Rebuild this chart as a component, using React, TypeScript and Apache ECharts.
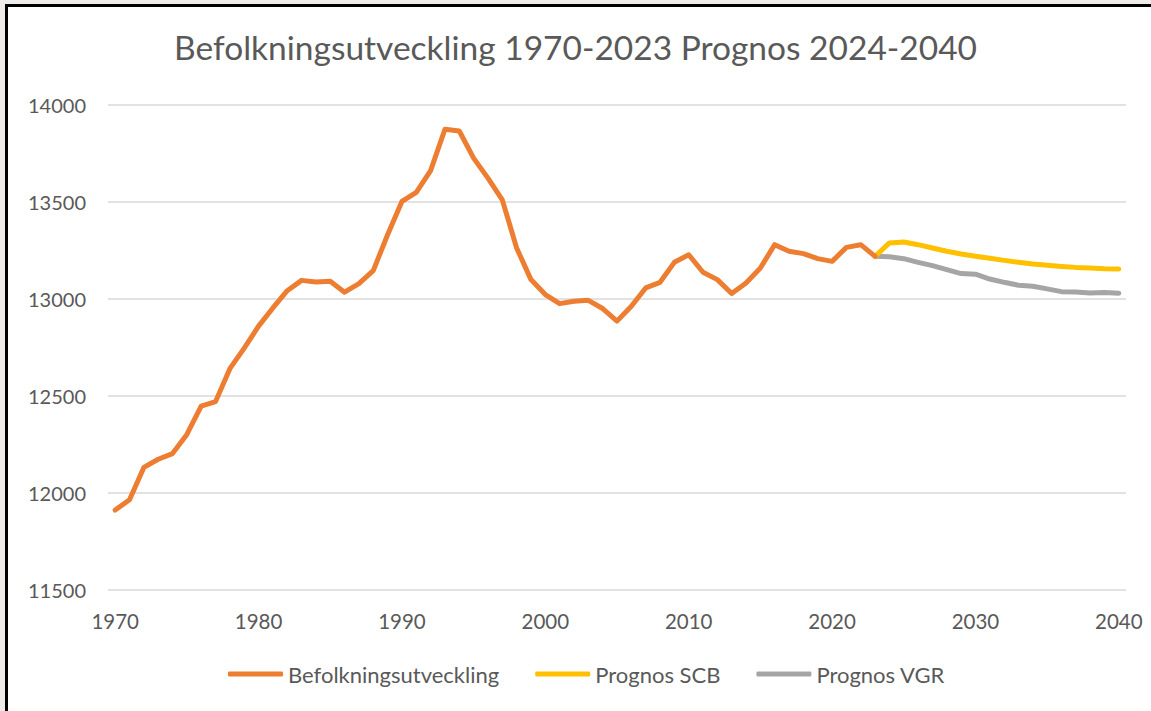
import React, { useEffect, useRef } from "react";
import * as echarts from "echarts";

const titleText = "Befolkningsutveckling 1970-2023 Prognos 2024-2040";
const startYear = 1970;
const endYear = 2040;
const forecastStart = 2023;

const historyValues = [
  11912, 11965, 12132, 12174, 12203, 12302, 12448, 12471, 12641, 12747,
  12860, 12954, 13043, 13096, 13088, 13091, 13035, 13079, 13146, 13331,
  13503, 13550, 13662, 13875, 13866, 13726, 13623, 13511, 13263, 13100,
  13023, 12976, 12988, 12993, 12951, 12886, 12963, 13057, 13086, 13189,
  13228, 13138, 13100, 13028, 13083, 13160, 13280, 13246, 13234, 13208,
  13194, 13266, 13280, 13220,
];

const scbValues = [
  13220, 13289, 13294, 13280, 13263, 13246, 13232, 13220, 13210, 13199,
  13189, 13180, 13174, 13168, 13163, 13160, 13156, 13155,
];

const vgrValues = [
  13220, 13218, 13208, 13189, 13172, 13151, 13131, 13128, 13103, 13086,
  13071, 13066, 13052, 13038, 13036, 13031, 13033, 13030,
];

const seriesNames = ["Befolkningsutveckling", "Prognos SCB", "Prognos VGR"];
const seriesColors = ["#ED7D31", "#FFC000", "#A5A5A5"];

const yTicks = { min: 11500, max: 14000, interval: 500 };

export default function App() {
  const ref = useRef<HTMLDivElement>(null);

  useEffect(() => {
    if (!ref.current) return;
    const chart = echarts.init(ref.current, null, { renderer: "svg" });

    const years: string[] = [];
    for (let y = startYear; y <= endYear; y++) years.push(String(y));
    const offset = forecastStart - startYear;

    const hist = years.map((_, i) => (i < historyValues.length ? historyValues[i] : null));
    const scb = years.map((_, i) => (i >= offset && i - offset < scbValues.length ? scbValues[i - offset] : null));
    const vgr = years.map((_, i) => (i >= offset && i - offset < vgrValues.length ? vgrValues[i - offset] : null));

    const font = "Lato, 'Open Sans', sans-serif";
    const textColor = "#595959";

    const mkSeries = (name: string, data: (number | null)[], color: string, z: number) => ({
      name,
      type: "line",
      data,
      showSymbol: false,
      symbol: "none",
      connectNulls: false,
      lineStyle: { color, width: 5, cap: "round", join: "round" },
      itemStyle: { color },
      z,
    });

    chart.setOption({
      animation: false,
      backgroundColor: "#FFFFFF",
      title: {
        text: titleText,
        left: "center",
        top: 25,
        textStyle: { fontFamily: font, fontSize: 33.5, fontWeight: "normal", color: textColor },
      },
      grid: { left: 108, right: 25, top: 105, bottom: 121, containLabel: false },
      legend: {
        data: seriesNames,
        left: 223,
        top: 658,
        icon: "roundRect",
        itemWidth: 55,
        itemHeight: 5,
        itemGap: 36,
        textStyle: { fontFamily: font, fontSize: 22, color: textColor },
      },
      xAxis: {
        type: "category",
        data: years,
        boundaryGap: true,
        axisLine: { show: false },
        axisTick: { show: false },
        axisLabel: {
          interval: 9,
          fontFamily: font,
          fontSize: 20.5,
          color: textColor,
          margin: 20,
        },
        splitLine: { show: false },
      },
      yAxis: {
        type: "value",
        min: yTicks.min,
        max: yTicks.max,
        interval: yTicks.interval,
        axisLine: { show: false },
        axisTick: { show: false },
        axisLabel: {
          fontFamily: font,
          fontSize: 20,
          color: textColor,
          margin: 22,
          formatter: (v: number) => String(v),
        },
        splitLine: { lineStyle: { color: "#D9D9D9", width: 1.5 } },
      },
      series: [
        mkSeries(seriesNames[0], hist, seriesColors[0], 3),
        mkSeries(seriesNames[1], scb, seriesColors[1], 2),
        mkSeries(seriesNames[2], vgr, seriesColors[2], 1),
      ],
      graphic: [
        { type: "rect", silent: true, shape: { x: 0, y: 0, width: 1151, height: 4 }, style: { fill: "#EEEBE8" } },
        { type: "rect", silent: true, shape: { x: 0, y: 0, width: 5, height: 711 }, style: { fill: "#EEEBE8" } },
        { type: "rect", silent: true, shape: { x: 5, y: 4, width: 1146, height: 3 }, style: { fill: "#000000" } },
        { type: "rect", silent: true, shape: { x: 5, y: 4, width: 3, height: 707 }, style: { fill: "#000000" } },
      ],
    });

    return () => chart.dispose();
  }, []);

  return (
    <div
      ref={ref}
      style={{ position: "absolute", left: 0, top: 0, width: 1151, height: 711 }}
    />
  );
}
